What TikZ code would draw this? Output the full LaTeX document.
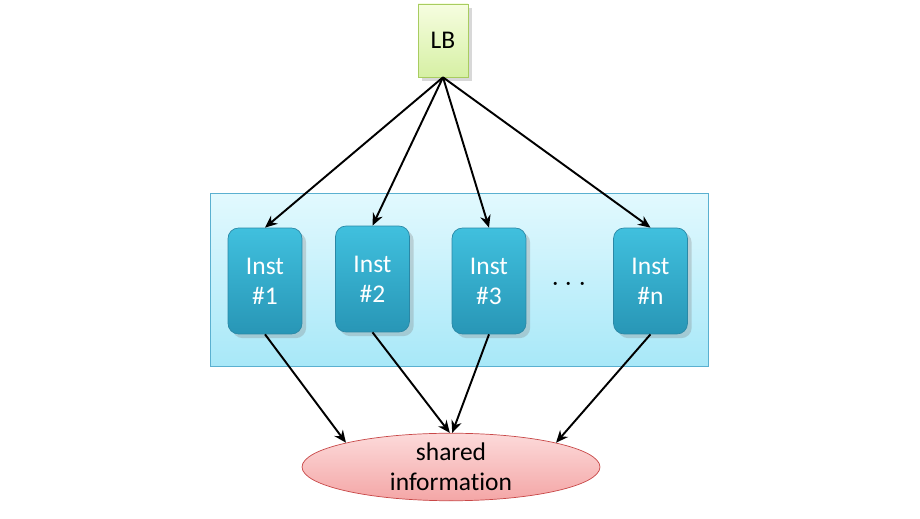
\documentclass[tikz,border=0pt]{standalone}
\usepackage{fontspec}
\setmainfont{Carlito}[Ligatures=NoCommon]
\usetikzlibrary{arrows.meta, shapes.geometric, shadows, positioning}
\definecolor{instborder}{HTML}{2A88A6}
\definecolor{insttop}{HTML}{40C0DE}
\definecolor{instbot}{HTML}{2896B6}
\definecolor{poolborder}{HTML}{5AB0D0}
\definecolor{pooltop}{HTML}{E2F9FE}
\definecolor{poolbot}{HTML}{A8E8F8}
\definecolor{lbborder}{HTML}{A8CC60}
\definecolor{lbtop}{HTML}{F6FDE0}
\definecolor{lbbot}{HTML}{D6F0A4}
\definecolor{infoborder}{HTML}{C84848}
\definecolor{infotop}{HTML}{FCDADA}
\definecolor{infobot}{HTML}{F4A6A6}

\begin{document}
\begin{tikzpicture}[x=0.02cm, y=-0.02cm,
    inst/.style={draw=instborder, rounded corners=6pt, top color=insttop, bottom color=instbot,
      text=white, align=center, minimum width=1.48cm, minimum height=2.12cm,
      font=\fontsize{14.5}{17}\selectfont, drop shadow={opacity=0.3}},
    conn/.style={-{Stealth[length=7pt, width=6pt]}, line width=1.1pt}]
    \useasboundingbox (0,0) rectangle (920,519);
    \fill[white] (0,0) rectangle (920,519);
    % pool of instances
    \node[draw=poolborder, top color=pooltop, bottom color=poolbot, minimum width=9.96cm,
      minimum height=3.46cm] (pool) at (459,279.5) {};
    \node[draw=lbborder, top color=lbtop, bottom color=lbbot, minimum width=1cm, minimum height=1.46cm,
      font=\fontsize{14.5}{17}\selectfont, drop shadow={opacity=0.3}] (lb) at (443,40.5) {LB};
    \node[inst] (i1) at (265,281) {Inst\\\#1};
    \node[inst] (i2) at (372.5,279) {Inst\\\#2};
    \node[inst] (i3) at (489,281) {Inst\\\#3};
    \node[inst] (in) at (650.5,281) {Inst\\\#n};
    \node[font=\fontsize{17}{20}\selectfont] (dots) at (569,285) {$\cdots$};
    \node[ellipse, draw=infoborder, top color=infotop, bottom color=infobot, minimum width=5.96cm,
      minimum height=1.32cm, inner sep=0pt, align=center, font=\fontsize{14.5}{17}\selectfont] (info) at (451,467) {shared\\information};
    % load balancer to instances
    \foreach \i in {i1,i2,i3,in}
      \draw[conn] (lb.south) -- (\i.north);
    % instances to shared information
    \draw[conn] (i1.south) -- (info.167);
    \draw[conn] (i2.south) -- (info.92);
    \draw[conn] (i3.south) -- (info.88);
    \draw[conn] (in.south) -- (info.13);
\end{tikzpicture}
\end{document}
